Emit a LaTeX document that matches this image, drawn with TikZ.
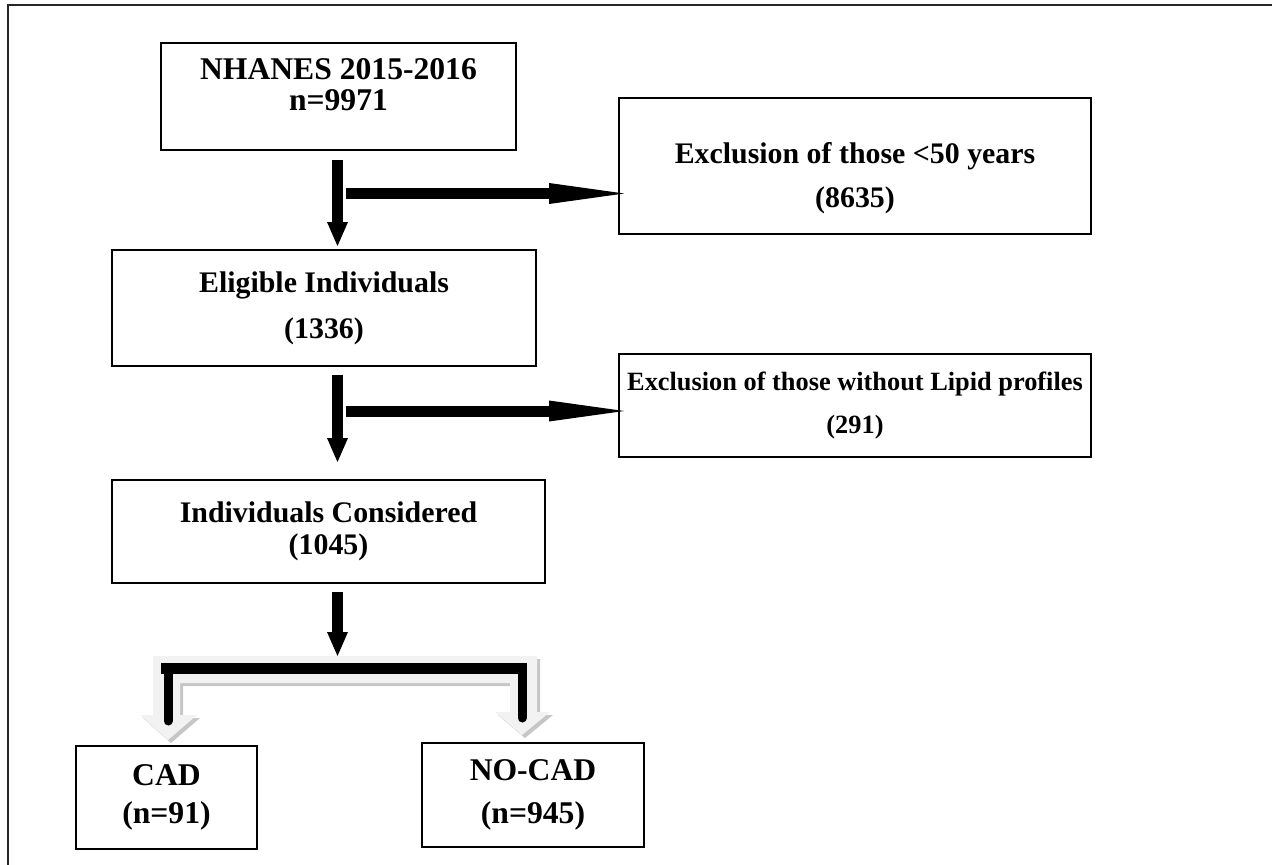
\documentclass[tikz,border=0pt]{standalone}
\usepackage{fontspec}
\setmainfont{Liberation Serif}
\usetikzlibrary{positioning, arrows.meta, calc}

\begin{document}
\begin{tikzpicture}[x=0.02cm, y=-0.02cm,
    stage/.style={draw, rectangle, line width=1.1pt, inner sep=0pt, align=center,
                  font=\fontsize{17}{20}\selectfont\bfseries},
    bigtext/.style={font=\fontsize{18}{21}\selectfont\bfseries},
    downarrow/.style={line width=0.22cm, -{Triangle[length=0.48cm, width=0.42cm, line width=0pt]}},
    sidearrow/.style={line width=0.22cm, -{Triangle[length=1.5cm, width=0.42cm, line width=0pt]}},
    stem/.style={line width=0.18cm, line cap=round},
    frameline/.style={line width=1.1pt, black!85},
]
\useasboundingbox (0,0) rectangle (1272,865);

% Outer frame (cut at right and bottom)
\draw[frameline] (8,865) -- (8,5) -- (1272,5);

% Main stages
\node[stage, bigtext, minimum width=7.1cm, minimum height=2.14cm, text depth=0.48cm] (nhanes) at (338.5,96.5)
  {NHANES 2015-2016\\[-3pt] n=9971};
\node[stage, minimum width=8.48cm, minimum height=2.32cm] (elig) at (324,308)
  {Eligible Individuals\\[6pt](1336)};
\node[stage, minimum width=8.66cm, minimum height=2.06cm] (cons) at (328.5,531.5)
  {Individuals Considered\\[-2pt](1045)};

% Exclusions (right side)
\node[stage, minimum width=9.44cm, minimum height=2.72cm, text height=1.77cm] (excl1) at (855,166)
  {Exclusion of those <50 years\\[5pt](8635)};
\node[stage, minimum width=9.44cm, minimum height=2.06cm, font=\fontsize{15}{18}\selectfont\bfseries] (excl2) at (855,405.5)
  {Exclusion of those without Lipid profiles\\[7pt](291)};

% Outcome groups
\node[stage, bigtext, minimum width=3.62cm, minimum height=2.06cm] (cad) at (166.5,797.5)
  {CAD\\[0.5pt](n=91)};
\node[stage, bigtext, minimum width=4.44cm, minimum height=2.08cm] (nocad) at (533,795)
  {NO-CAD\\[3.5pt](n=945)};

% Branch points
\coordinate (split1) at (337.5,193.5);
\coordinate (split2) at (337.5,411);
\coordinate (bartop) at (337.5,656);
\coordinate (forkL) at (168,674);
\coordinate (forkR) at (522,674);

% Flow arrows
\draw[downarrow] ($(nhanes.south -| split1)+(0,9)$) -- ($(elig.north -| split1)+(0,-3)$);
\draw[sidearrow] ($(split1)+(8.5,0)$) -- ($(split1 -| excl1.west)+(6,0)$);
\draw[downarrow] ($(elig.south -| split1)+(0,8)$) -- ($(cons.north -| split1)+(0,-17)$);
\draw[sidearrow] ($(split2)+(8.5,0)$) -- ($(split2 -| excl2.west)+(6,0)$);
\draw[downarrow] ($(cons.south -| split1)+(0,8)$) -- (bartop);

% Fork into CAD / NO-CAD (shadow, then light body)
\foreach \dd/\fillc in {3/gray!45, 0/gray!10} {
  \fill[\fillc, shift={(\dd,\dd)}] (153,656) -- (537,656) -- (537,712) -- (550,712)
    -- (522,735) -- (495,712) -- (510,712) -- (510,683) -- (180,683) -- (180,715)
    -- (197,715) -- (168,740) -- (140,715) -- (153,715) -- cycle;
}
\fill (161,663) rectangle (527,674);
\draw[stem] (forkL) -- ($(forkL)+(0,47)$);
\draw[stem] (forkR) -- ($(forkR)+(0,44)$);

\end{tikzpicture}
\end{document}
